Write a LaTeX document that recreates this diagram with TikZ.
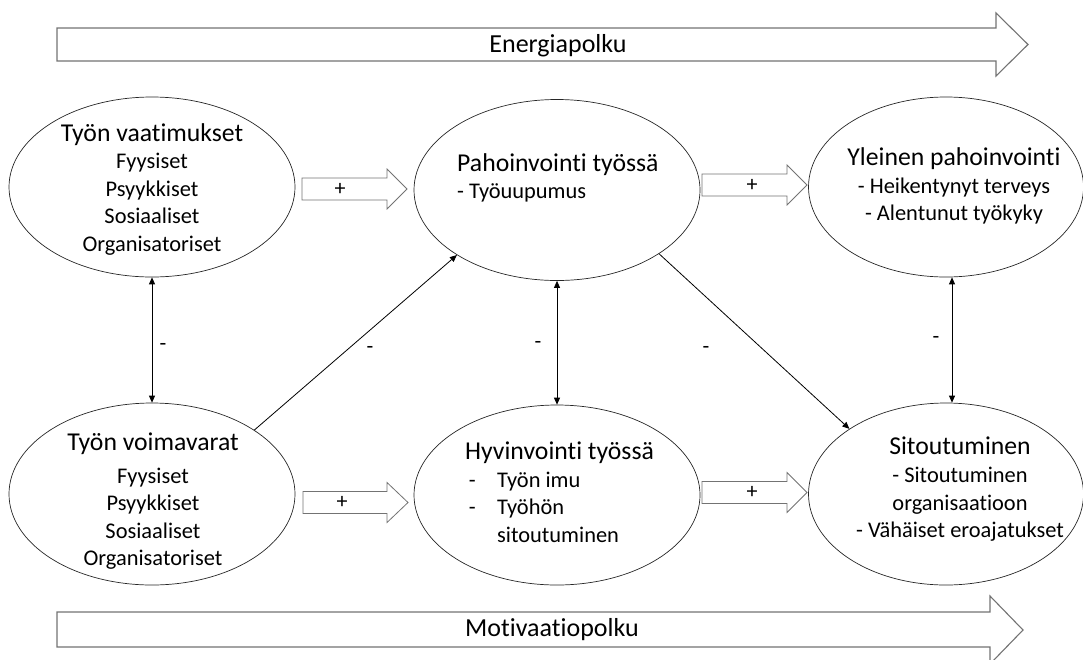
\documentclass[tikz,border=0pt]{standalone}
\usepackage{fontspec}
\setmainfont{Carlito}[Ligatures={NoCommon,NoContextual}]
\usetikzlibrary{arrows.meta,shapes.geometric,calc}
\newcommand\mytitle[1]{{\fontsize{25.7}{27.5}\selectfont #1}}
\newcommand\noti{t\kern0pt i}
\newcommand\blockarr[6]{% name, x1, xbase, xtip, yc, plus x
  \draw[blk] ({#2},{#5-11}) -- ({#3},{#5-11}) -- ({#3},{#5-20}) -- ({#4},{#5})
    -- ({#3},{#5+20}) -- ({#3},{#5+11}) -- ({#2},{#5+11}) -- cycle;
  \node[lbl] (#1) at ({#6},{#5}) {+};}
\begin{document}
\begin{tikzpicture}[x=1pt,y=-1pt,
  ell/.style={ellipse, draw=black!85, line width=0.7pt, inner sep=0pt},
  body/.style={font=\fontsize{22.4}{27.5}\selectfont, inner sep=0pt},
  blk/.style={draw=black!55, line width=0.8pt, fill=white},
  big/.style={draw=black!55, line width=1.1pt, fill=white},
  conn/.style={line width=0.8pt, -{Triangle[length=7pt,width=6pt]}},
  dconn/.style={line width=0.8pt, {Triangle[length=7pt,width=6pt]}-{Triangle[length=7pt,width=6pt]}},
  lbl/.style={font=\fontsize{22}{26}\selectfont, inner sep=1pt},
  path/.style={font=\fontsize{26}{30}\selectfont, inner sep=0pt}
]
\useasboundingbox (0,0) rectangle (1083,659);

% big path arrows
\draw[big] (57,28) -- (996,28) -- (996,13) -- (1028,44.5) -- (996,76) -- (996,61) -- (57,61) -- cycle;
\node[path] (energ) at (558,46) {Energiapolku};
\draw[big] (57,612) -- (990,612) -- (990,596) -- (1023,630) -- (990,664) -- (990,647) -- (57,647) -- cycle;
\node[path] (motiv) at (552,630) {Motivaa\noti opolku};

% ellipses
\node[ell, minimum width=286pt, minimum height=180pt] (vaat) at (152,187) {};
\node[ell, minimum width=286pt, minimum height=181pt] (pah) at (557,190) {};
\node[ell, minimum width=275pt, minimum height=180pt] (yle) at (946,187) {};
\node[ell, minimum width=286pt, minimum height=182pt] (voim) at (152,494) {};
\node[ell, minimum width=286pt, minimum height=180pt] (hyv) at (557,495) {};
\node[ell, minimum width=275pt, minimum height=182pt] (sit) at (946,494) {};

% texts
\node[body, align=center] (tvaat) at (152,189)
  {\mytitle{Työn vaatimukset}\\Fyysiset\\Psyykkiset\\Sosiaaliset\\Organisatoriset};
\node[body, align=center] (tvoim) at (153,501)
  {\mytitle{Työn voimavarat}\\[5.5pt]Fyysiset\\Psyykkiset\\Sosiaaliset\\Organisatoriset};
\node[body, align=left, anchor=west] (tpah) at (457,178)
  {\mytitle{Pahoinvoin\noti\ työssä}\\- Työuupumus};
\node[body, align=center] (tyle) at (954,186)
  {\mytitle{Yleinen pahoinvoin\noti}\\- Heikentynyt terveys\\- Alentunut työkyky};
\node[body, align=left, anchor=west] (thyv) at (465,492)
  {\mytitle{Hyvinvoin\noti\ työssä}\\\makebox[32pt][l]{\,-}Työn imu\\\makebox[32pt][l]{\,-}Työhön\\\makebox[32pt][l]{}sitoutuminen};
\node[body, align=center] (tsit) at (960,489)
  {\mytitle{Sitoutuminen}\\[1pt]- Sitoutuminen\\organisaa\noti oon\\- Vähäiset eroajatukset};

% block arrows
\blockarr{p1}{302}{387}{407}{189}{340}
\blockarr{p2}{702}{787}{807}{185}{752}
\blockarr{p3}{303}{387}{408}{502.5}{342}
\blockarr{p4}{702}{787}{807}{492.5}{752}

% connectors
\draw[dconn] (vaat.south) -- (voim.north);
\draw[dconn] (pah.south) -- (hyv.north);
\draw[dconn] ([xshift=6pt]yle.south) -- ([xshift=6pt]sit.north);
\draw[conn] (voim.32) -- (pah.213);
\draw[conn] (pah.-32) -- (sit.146);

% minus labels
\node[lbl] (m1) at (163,347) {-};
\node[lbl] (m2) at (370,350) {-};
\node[lbl] (m3) at (538,345) {-};
\node[lbl] (m4) at (706,350) {-};
\node[lbl] (m5) at (936,340) {-};
\end{tikzpicture}
\end{document}
